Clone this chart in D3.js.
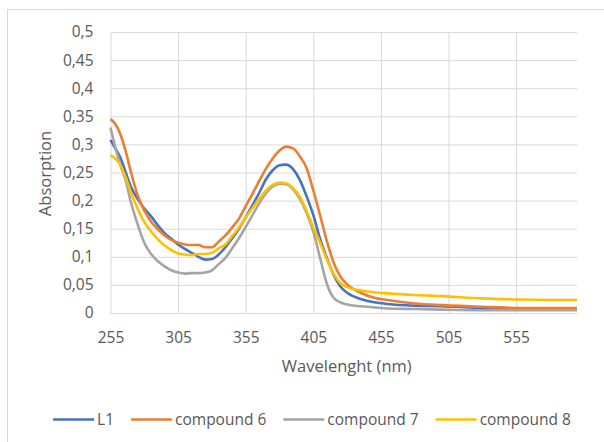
<!DOCTYPE html>
<html>
<head>
<meta charset="utf-8">
<script src="https://cdn.jsdelivr.net/npm/d3@7"></script>
<style>
  body { margin: 0; background: #fff; }
  text { font-family: "Open Sans", sans-serif; fill: #595959; }
</style>
</head>
<body>
<svg id="chart" width="604" height="442"></svg>
<script>
const wavelengths = [255, 258, 262, 266, 270, 275, 280, 285, 290, 295, 300, 305, 310, 315, 320, 325, 330, 335, 340, 345,
  350, 355, 360, 365, 370, 375, 380, 385, 390, 395, 400, 405, 410, 415, 420, 425, 430, 440, 450, 460, 480, 500, 530, 560, 600];

const seriesNames = ["L1", "compound 6", "compound 7", "compound 8"];

const l1 = [0.308, 0.295, 0.278, 0.252, 0.225, 0.203, 0.186, 0.172, 0.156, 0.142, 0.132, 0.122, 0.114, 0.107, 0.100, 0.095, 0.096, 0.104, 0.117, 0.133,
  0.150, 0.170, 0.192, 0.214, 0.238, 0.254, 0.263, 0.264, 0.256, 0.237, 0.208, 0.174, 0.132, 0.098, 0.068, 0.047, 0.036, 0.025, 0.019, 0.016, 0.013, 0.012, 0.009, 0.007, 0.006];

const compound6 = [0.345, 0.338, 0.320, 0.290, 0.252, 0.210, 0.182, 0.163, 0.149, 0.138, 0.130, 0.125, 0.122, 0.121, 0.121, 0.117, 0.117, 0.127, 0.138, 0.152,
  0.168, 0.190, 0.212, 0.235, 0.257, 0.275, 0.289, 0.296, 0.293, 0.279, 0.258, 0.218, 0.174, 0.128, 0.090, 0.065, 0.051, 0.036, 0.027, 0.023, 0.017, 0.014, 0.011, 0.009, 0.009];

const compound7 = [0.330, 0.300, 0.265, 0.238, 0.198, 0.158, 0.125, 0.105, 0.092, 0.083, 0.076, 0.072, 0.070, 0.071, 0.071, 0.072, 0.076, 0.087, 0.098, 0.115,
  0.133, 0.153, 0.174, 0.195, 0.213, 0.225, 0.230, 0.229, 0.220, 0.203, 0.178, 0.145, 0.098, 0.052, 0.027, 0.019, 0.015, 0.012, 0.010, 0.008, 0.007, 0.006, 0.005, 0.005, 0.005];

const compound8 = [0.281, 0.276, 0.265, 0.243, 0.215, 0.186, 0.162, 0.145, 0.131, 0.120, 0.112, 0.106, 0.104, 0.103, 0.105, 0.105, 0.107, 0.115, 0.122, 0.137,
  0.152, 0.170, 0.187, 0.203, 0.218, 0.228, 0.232, 0.231, 0.222, 0.207, 0.182, 0.152, 0.125, 0.095, 0.070, 0.053, 0.046, 0.040, 0.037, 0.035, 0.032, 0.030, 0.026, 0.024, 0.023];

const xTicks = [255, 305, 355, 405, 455, 505, 555];
const yTicks = [0, 0.05, 0.1, 0.15, 0.2, 0.25, 0.3, 0.35, 0.4, 0.45, 0.5];

const svg = d3.select("#chart");
const margin = {top: 32, right: 27, bottom: 129, left: 110.5};
const width = +svg.attr("width") - margin.left - margin.right;
const height = +svg.attr("height") - margin.top - margin.bottom;

// chart frame
svg.append("rect")
    .attr("x", 7.5).attr("y", 9.5)
    .attr("width", 620).attr("height", 460)
    .attr("fill", "none")
    .attr("stroke", "#d9d9d9");

const x = d3.scaleLinear().domain([255, 600]).range([0, width]);
const y = d3.scaleLinear().domain([0, 0.5]).range([height, 0]);

const g = svg.append("g")
    .attr("transform", `translate(${margin.left},${margin.top})`);

const fmt = d => String(+d.toFixed(2)).replace(".", ",");

// gridlines
g.append("g")
    .attr("transform", `translate(0,${height})`)
    .call(d3.axisBottom(x).tickValues(xTicks).tickSize(-height).tickFormat(""))
    .call(a => a.select(".domain").remove())
    .selectAll("line").attr("stroke", "#d9d9d9");

g.append("g")
    .call(d3.axisLeft(y).tickValues(yTicks).tickSize(-width).tickFormat(""))
    .call(a => a.select(".domain").remove())
    .selectAll("line").attr("stroke", "#d9d9d9");

// tick labels
g.append("g")
    .attr("transform", `translate(0,${height})`)
    .call(d3.axisBottom(x).tickValues(xTicks).tickSize(0).tickPadding(19).tickFormat(d => d))
    .call(a => a.select(".domain").remove())
    .selectAll("text")
    .attr("font-size", 15.5)
    .attr("font-family", "Open Sans, sans-serif")
    .attr("fill", "#595959");

g.append("g")
    .call(d3.axisLeft(y).tickValues(yTicks).tickSize(0).tickPadding(17).tickFormat(fmt))
    .call(a => a.select(".domain").remove())
    .selectAll("text")
    .attr("font-size", 15.5)
    .attr("font-family", "Open Sans, sans-serif")
    .attr("fill", "#595959");

// axis titles
svg.append("text")
    .attr("x", margin.left + width / 2 + 3)
    .attr("y", 372)
    .attr("text-anchor", "middle")
    .attr("font-size", 16.5)
    .text("Wavelenght (nm)");

svg.append("text")
    .attr("transform", `translate(51,${margin.top + height / 2 + 1}) rotate(-90)`)
    .attr("text-anchor", "middle")
    .attr("font-size", 16.5)
    .text("Absorption");

const colors = ["#4472C4", "#ED7D31", "#A5A5A5", "#FFC000"];
const series = [l1, compound6, compound7, compound8];

const line = d3.line()
    .x((d, i) => x(wavelengths[i]))
    .y(d => y(d))
    .curve(d3.curveMonotoneX);

series.forEach((values, i) => {
    g.append("path")
        .datum(values)
        .attr("fill", "none")
        .attr("stroke", colors[i])
        .attr("stroke-width", 2.6)
        .attr("stroke-linejoin", "round")
        .attr("d", line);
});

// legend
const legend = svg.append("g");
let cursor = 0;
seriesNames.forEach((name, i) => {
    const item = legend.append("g").attr("transform", `translate(${cursor},0)`);
    item.append("line")
        .attr("x1", 0).attr("x2", 41)
        .attr("stroke", colors[i])
        .attr("stroke-width", 2.6);
    const t = item.append("text")
        .attr("x", 44)
        .attr("dy", "0.35em")
        .attr("font-size", 15.5)
        .text(name);
    cursor += 44 + t.node().getComputedTextLength() + 17;
});
const legendWidth = cursor - 17;
legend.attr("transform", `translate(${312 - legendWidth / 2},419.5)`);
</script>
</body>
</html>
